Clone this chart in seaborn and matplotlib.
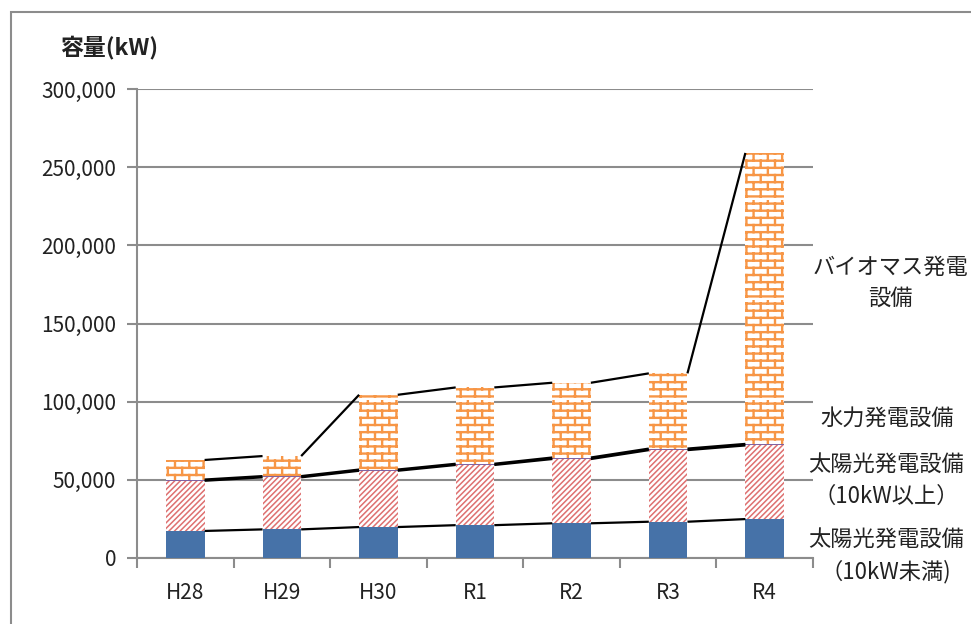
import warnings
warnings.filterwarnings("ignore")
import numpy as np
import matplotlib
matplotlib.use("Agg")
import matplotlib.pyplot as plt
from matplotlib import hatch as mhatch
from matplotlib.path import Path
from matplotlib.patches import Rectangle
import seaborn as sns

# ---------------- data ----------------
categories = ["H28", "H29", "H30", "R1", "R2", "R3", "R4"]
solar_small = [17300, 18300, 19800, 21000, 22200, 23200, 24900]      # 太陽光 (10kW未満)
solar_large = [32100, 33300, 36000, 38500, 41100, 45800, 47100]      # 太陽光 (10kW以上)
hydro = [700, 700, 700, 700, 900, 900, 900]                          # 水力
biomass = [12600, 12900, 47900, 48900, 47900, 48200, 186200]         # バイオマス
yticks = [0, 50000, 100000, 150000, 200000, 250000, 300000]
series_labels = ["バイオマス発電\n設備", "水力発電設備", "太陽光発電設備\n（10kW以上）", "太陽光発電設備\n（10kW未満)"]

# ---------------- custom brick hatch ----------------
class BrickHatch(mhatch.HatchPatternBase):
    def __init__(self, hatch, density):
        n = hatch.count('b')
        self.rows = 14 if n else 0
        self.cols = 7
        self.num_lines = self.rows * (1 + self.cols)
        self.num_vertices = self.num_lines * 2

    def set_vertices_and_codes(self, vertices, codes):
        k = 0
        r, c = self.rows, self.cols
        for i in range(r):
            y0 = (i + 0.5) / r
            y1 = (i + 1.5) / r
            vertices[k] = (0.0, y0); codes[k] = Path.MOVETO; k += 1
            vertices[k] = (1.0, y0); codes[k] = Path.LINETO; k += 1
            for j in range(c):
                x = (j + 0.25 + 0.5 * (i % 2)) / c
                vertices[k] = (x, y0); codes[k] = Path.MOVETO; k += 1
                vertices[k] = (x, y1); codes[k] = Path.LINETO; k += 1

mhatch._hatch_types.append(BrickHatch)

# ---------------- style ----------------
sns.set_theme(style="white")
plt.rcParams['font.family'] = ['Noto Sans CJK JP', 'DejaVu Sans']
plt.rcParams['hatch.linewidth'] = 1.6

W, H = 971, 624
fig = plt.figure(figsize=(W / 100, H / 100), dpi=100)
ax = fig.add_axes([137 / W, (H - 558) / H, (813 - 137) / W, (558 - 89) / H])

s1 = np.array(solar_small, float)
s2 = s1 + np.array(solar_large, float)
s3 = s2 + np.array(hydro, float)
s4 = s3 + np.array(biomass, float)

bw = 0.4

def set_hlw(container, lw):
    for p in container:
        if hasattr(p, "set_hatch_linewidth"):
            p.set_hatch_linewidth(lw)
        else:
            p._hatch_linewidth = lw

sns.barplot(x=categories, y=s4, color="white", saturation=1, width=bw,
            edgecolor="#F79646", linewidth=0, hatch="b", ax=ax, zorder=3)
set_hlw(ax.containers[-1], 1.7)
sns.barplot(x=categories, y=s3, color="#8064A2", saturation=1, width=bw,
            linewidth=0, ax=ax, zorder=3)
sns.barplot(x=categories, y=s2, color="white", saturation=1, width=bw,
            edgecolor="#DE7070", linewidth=0, hatch="//////", ax=ax, zorder=3)
set_hlw(ax.containers[-1], 1.1)
sns.barplot(x=categories, y=s1, color="#4672A8", saturation=1, width=bw,
            linewidth=0, ax=ax, zorder=3)

# series lines
def series_line(vals, lw):
    xs, ys = [], []
    for i in range(len(vals) - 1):
        xs += [i + bw / 2, i + 1 - bw / 2, np.nan]
        ys += [vals[i], vals[i + 1], np.nan]
    ax.plot(xs, ys, color="black", lw=lw, zorder=4, solid_capstyle="butt")

series_line(s1, 1.6)
series_line(s2, 1.6)
series_line(s3, 1.8)
series_line(s4, 1.6)

# axes
ax.set_xlim(-0.5, len(categories) - 0.5)
ax.set_ylim(0, 300000)
ax.set_yticks(yticks)
ax.set_yticklabels([f"{v:,}" for v in yticks])
ax.set_xticks(range(len(categories)))
ax.set_xticklabels(categories)
ax.set_xticks(np.arange(-0.5, len(categories)), minor=True)
ax.tick_params(axis="x", which="major", length=0, pad=17, labelsize=15, colors="#222222")
ax.tick_params(axis="x", which="minor", length=7, width=1.5, color="#8c8c8c", direction="out", bottom=True)
ax.tick_params(axis="y", length=7, width=1.5, color="#8c8c8c", direction="out", left=True, pad=8,
               labelsize=15, labelcolor="#222222")
ax.set_xlabel("")
ax.set_ylabel("")
ax.grid(axis="y", color="#8c8c8c", lw=1.5, zorder=0)
ax.set_axisbelow(True)
for s in ["top", "right"]:
    ax.spines[s].set_visible(False)
for s in ["left", "bottom"]:
    ax.spines[s].set_color("#8c8c8c")
    ax.spines[s].set_linewidth(1.5)

# title
fig.text(109 / W, 1 - 47 / H, "容量(kW)", ha="center", va="center", fontsize=16.5,
         fontweight="bold", color="#222222")

# right labels
lab_pos = [(890, 283), (887, 418), (886, 481), (886, 556)]
for (px, py), txt in zip(lab_pos, series_labels):
    fig.text(px / W, 1 - py / H, txt, ha="center", va="center", fontsize=16,
             color="#222222", linespacing=1.45)

# chart-area border
fig.patches.append(Rectangle((11 / W, -0.2), 1.5, 1.2 - 12 / H, transform=fig.transFigure,
                             fill=False, edgecolor="#8c8c8c", lw=1.5, clip_on=False))

fig.savefig("out.png", dpi=100)
